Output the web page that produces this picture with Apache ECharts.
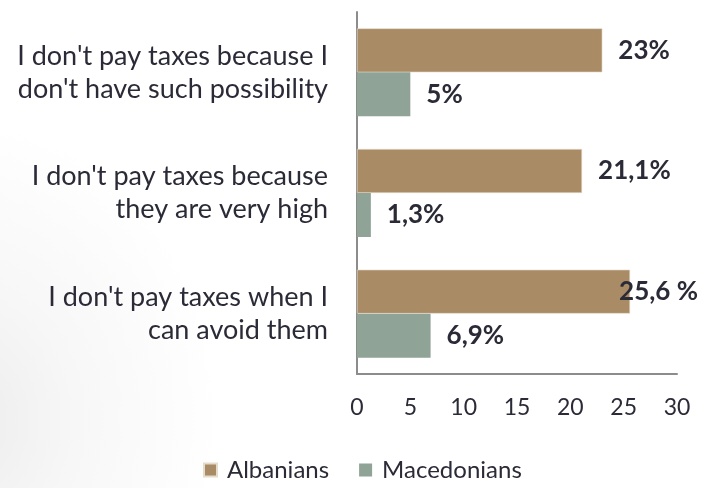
<!DOCTYPE html>
<html>
<head>
<meta charset="utf-8">
<script src="https://cdn.jsdelivr.net/npm/echarts@6/dist/echarts.min.js"></script>
<style>
html,body{margin:0;padding:0;width:702px;height:488px;overflow:hidden;
background:radial-gradient(ellipse 260px 300px at -40px 420px,#ececec 0%,#f7f7f7 45%,#ffffff 100%);}
#c{width:702px;height:488px;}
</style>
</head>
<body>
<div id="c"></div>
<script>
const categories = [
  "I don't pay taxes because I\ndon't have such possibility",
  "I don't pay taxes because\nthey are very high",
  "I don't pay taxes when I\ncan avoid them"
];
const albanians = [23, 21.1, 25.6];
const macedonians = [5, 1.3, 6.9];
const albLabels = ["23%", "21,1%", "25,6 %"];
const macLabels = ["5%", "1,3%", "6,9%"];
const xTicks = [0, 5, 10, 15, 20, 25, 30];

const FONT = "Lato";
const TXT = "#2b2b38";

function mkData(vals, labels, shifts) {
  return vals.map((v, i) => ({
    value: v,
    label: { formatter: labels[i], offset: [shifts[i], 0] }
  }));
}

const chart = echarts.init(document.getElementById('c'), null, {renderer: 'canvas'});
chart.setOption({
  animation: false,
  backgroundColor: 'transparent',
  textStyle: { fontFamily: FONT },
  grid: { left: 357, right: 25, top: 12, bottom: 114, containLabel: false },
  legend: {
    bottom: 1,
    left: 198,
    itemWidth: 13, itemHeight: 13, itemGap: 30,
    icon: 'rect',
    formatter: name => '{t|' + name + '}',
    textStyle: { fontFamily: FONT, fontSize: 24, color: TXT,
      rich: { t: { fontFamily: FONT, fontSize: 24, color: TXT, padding: [0, 0, 0, 5] } } },
    data: ['Albanians', 'Macedonians']
  },
  xAxis: {
    type: 'value', min: 0, max: 30, interval: 5,
    axisLine: { show: true, lineStyle: { color: '#8c8c8c', width: 2 } },
    axisTick: { show: false },
    splitLine: { show: false },
    axisLabel: {
      margin: 22, fontFamily: FONT, fontSize: 23, color: TXT,
      formatter: v => xTicks.indexOf(v) >= 0 ? String(v) : ''
    }
  },
  yAxis: {
    type: 'category', data: categories, inverse: true,
    axisLine: { show: true, lineStyle: { color: '#8c8c8c', width: 2 } },
    axisTick: { show: false },
    axisLabel: {
      margin: 29, fontFamily: FONT, fontSize: 27, color: TXT,
      lineHeight: 33, align: 'right'
    }
  },
  series: [
    {
      name: 'Albanians', type: 'bar', barWidth: 44, barGap: '0%',
      itemStyle: { color: '#a98b66', borderColor: '#e6dccb', borderWidth: 0.6 },
      label: { show: true, position: 'right', distance: 16,
        fontFamily: FONT, fontWeight: 'bold', fontSize: 26, color: TXT },
      data: mkData(albanians, albLabels, [0, 0, -27])
    },
    {
      name: 'Macedonians', type: 'bar', barWidth: 44, barGap: '0%',
      itemStyle: { color: '#8fa397' },
      label: { show: true, position: 'right', distance: 16,
        fontFamily: FONT, fontWeight: 'bold', fontSize: 26, color: TXT },
      data: mkData(macedonians, macLabels, [0, 0, 0])
    }
  ]
});
</script>
</body>
</html>
